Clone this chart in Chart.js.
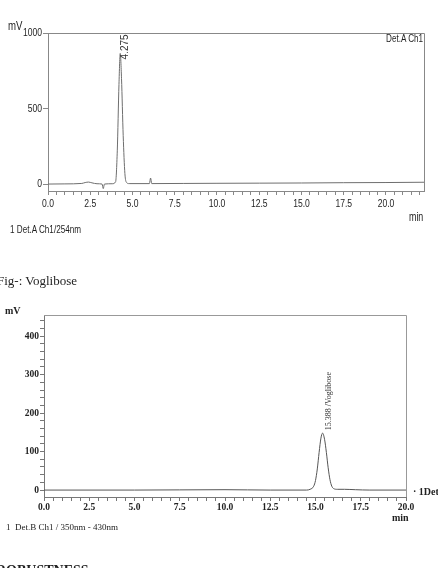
<!DOCTYPE html>
<html>
<head>
<meta charset="utf-8">
<script src="https://cdn.jsdelivr.net/npm/chart.js@4.4.1/dist/chart.umd.min.js"></script>
<style>
  html, body { margin: 0; padding: 0; background: #fff; }
  #page { position: relative; width: 438px; height: 568px; overflow: hidden; background: #fff; }
  canvas { position: absolute; left: 0; }
  .t { position: absolute; white-space: nowrap; line-height: 1; }
  .sans { font-family: 'Liberation Sans', Arial, sans-serif; color: #1e1e1e; font-size: 11px; transform: scaleX(0.74); transform-origin: left top; }
  .serif { font-family: 'Liberation Serif', 'Times New Roman', serif; color: #222; }
</style>
</head>
<body>
<div id="page">
  <canvas id="chartA" width="438" height="240" style="top:0;width:438px;height:240px"></canvas>
  <canvas id="chartB" width="438" height="250" style="top:290px;width:438px;height:250px"></canvas>

  <div class="t sans" style="left:8px;top:19px;font-size:13px">mV</div>
  <div class="t sans" style="left:386px;top:33px">Det.A Ch1</div>
  <div class="t sans" style="left:409px;top:211px;font-size:12px">min</div>
  <div class="t sans" style="left:10px;top:224px">1 Det.A Ch1/254nm</div>

  <div class="t serif" style="left:-3px;top:274px;font-size:13px">Fig-: Voglibose</div>
  <div class="t serif" style="left:5px;top:306px;font-size:10px;font-weight:bold">mV</div>
  <div class="t serif" style="left:392px;top:513px;font-size:10px;font-weight:bold">min</div>
  <div class="t serif" style="left:413px;top:487px;font-size:10px;font-weight:bold">&middot; 1Det.B Ch1</div>
  <div class="t serif" style="left:6px;top:523px;font-size:9px">1&nbsp; Det.B Ch1 / 350nm - 430nm</div>
  <div class="t serif" style="left:-4px;top:564px;font-size:14px;font-weight:bold">ROBUSTNESS</div>
</div>
<script>
// chromatogram A (Det.A Ch1 / 254nm)
const timeA   = [0, 1.0, 2.0, 2.2, 2.4, 2.6, 2.9, 3.2, 3.27, 3.34, 3.8, 4.0, 4.1, 4.2, 4.275, 4.35, 4.45, 4.55, 4.65, 4.8, 6.0, 6.07, 6.14, 8, 10, 12.5, 15, 17.5, 20, 22.25];
const signalA = [0, 1, 4, 10, 13, 8, 2, 0, -30, 0, 2, 15, 220, 660, 865, 700, 320, 70, 10, 3, 3, 40, 3, 4, 5, 6, 7, 9, 10, 12];
const peakTimesA  = [4.275];
const peakHeightA = [865];
const peakLabelsA = ['4.275'];
const yLabelsA = [0, 500, 1000];

// chromatogram B (Det.B Ch1 / 350nm - 430nm)
const timeB   = [0, 5, 10, 12.5, 14.5, 14.7, 14.9, 15.0, 15.1, 15.2, 15.3, 15.388, 15.5, 15.6, 15.7, 15.8, 15.9, 16.0, 16.2, 16.6, 17.2, 18, 20];
const signalB = [0, 0, 1, 0, 0, 2, 10, 25, 55, 98, 135, 148, 132, 98, 58, 27, 10, 4, 2, 2, 1, 0, 0];
const peakTimesB  = [15.388];
const peakHeightB = [148];
const peakLabelsB = ['15.388 /Voglibose'];
const yLabelsB = [0, 100, 200, 300, 400];

const xLabels = [0, 2.5, 5, 7.5, 10, 12.5, 15, 17.5, 20];

function pts(xs, ys) { return xs.map((x, i) => ({ x: x, y: ys[i] })); }
function range(a, b, s) { const r = []; for (let v = a; v <= b + 1e-9; v += s) r.push(Math.round(v * 100) / 100); return r; }

const frame = (color) => ({
  id: 'frame',
  afterDraw(chart) {
    const a = chart.chartArea, ctx = chart.ctx;
    ctx.save();
    ctx.strokeStyle = color;
    ctx.lineWidth = 1;
    ctx.beginPath();
    ctx.moveTo(a.left, a.top + 0.5); ctx.lineTo(a.right + 0.5, a.top + 0.5);
    ctx.lineTo(a.right + 0.5, a.bottom);
    ctx.stroke();
    ctx.restore();
  }
});

const peakText = (times, heights, labels, font, color, dx, dy) => ({
  id: 'peakText',
  afterDatasetsDraw(chart) {
    const ctx = chart.ctx, xs = chart.scales.x, ys = chart.scales.y;
    ctx.save();
    ctx.font = font;
    ctx.fillStyle = color;
    ctx.textAlign = 'left';
    ctx.textBaseline = 'middle';
    times.forEach((t, i) => {
      ctx.save();
      ctx.translate(xs.getPixelForValue(t) + dx, ys.getPixelForValue(heights[i]) + dy);
      ctx.rotate(-Math.PI / 2);
      ctx.fillText(labels[i], 0, 0);
      ctx.restore();
    });
    ctx.restore();
  }
});

// condensed tick labels for the top chart (the original uses a narrow face)
const narrowTicks = {
  id: 'narrowTicks',
  afterDraw(chart) {
    const ctx = chart.ctx, xs = chart.scales.x, ys = chart.scales.y;
    ctx.save();
    ctx.font = "11px 'Liberation Sans', Arial";
    ctx.fillStyle = '#1e1e1e';
    ctx.textBaseline = 'middle';
    xLabels.forEach(v => {
      ctx.save();
      ctx.translate(xs.getPixelForValue(v), xs.top + 13);
      ctx.scale(0.78, 1);
      ctx.textAlign = 'center';
      ctx.fillText(v.toFixed(1), 0, 0);
      ctx.restore();
    });
    yLabelsA.forEach(v => {
      ctx.save();
      ctx.translate(ys.right - 6, ys.getPixelForValue(v));
      ctx.scale(0.78, 1);
      ctx.textAlign = 'right';
      ctx.fillText(String(v), 0, 0);
      ctx.restore();
    });
    ctx.restore();
  }
};

// top chart
new Chart(document.getElementById('chartA'), {
  type: 'line',
  data: {
    datasets: [{
      data: pts(timeA, signalA),
      borderColor: '#6e6e6e',
      borderWidth: 1,
      pointRadius: 0,
      cubicInterpolationMode: 'monotone'
    }]
  },
  options: {
    responsive: false,
    animation: false,
    layout: { padding: { top: 33, right: 14, left: 0, bottom: 0 } },
    plugins: { legend: { display: false }, tooltip: { enabled: false } },
    scales: {
      x: {
        type: 'linear', min: 0, max: 22.25,
        afterBuildTicks: s => { s.ticks = range(0, 22, 0.5).map(v => ({ value: v })); },
        afterFit: s => { s.height = 49; },
        ticks: { display: false },
        grid: { drawOnChartArea: false, tickLength: 4, color: '#888' },
        border: { color: '#888' }
      },
      y: {
        min: -46, max: 1000,
        afterBuildTicks: s => { s.ticks = yLabelsA.map(v => ({ value: v })); },
        afterFit: s => { s.width = 48; },
        ticks: { display: false },
        grid: { drawOnChartArea: false, tickLength: 5, color: '#888' },
        border: { color: '#888' }
      }
    }
  },
  plugins: [frame('#888'), narrowTicks, peakText(peakTimesA, peakHeightA, peakLabelsA, "10px 'Liberation Sans', Arial", '#333', 5, 6)]
});

// bottom chart
new Chart(document.getElementById('chartB'), {
  type: 'line',
  data: {
    datasets: [{
      data: pts(timeB, signalB),
      borderColor: '#555',
      borderWidth: 1,
      pointRadius: 0,
      cubicInterpolationMode: 'monotone'
    }]
  },
  options: {
    responsive: false,
    animation: false,
    layout: { padding: { top: 25, right: 32, left: 0, bottom: 0 } },
    plugins: { legend: { display: false }, tooltip: { enabled: false } },
    scales: {
      x: {
        type: 'linear', min: 0, max: 20,
        afterBuildTicks: s => { s.ticks = range(0, 20, 0.5).map(v => ({ value: v })); },
        afterFit: s => { s.height = 43; },
        ticks: {
          autoSkip: false, maxRotation: 0, padding: 1, color: '#222',
          font: { family: "'Liberation Serif', 'Times New Roman', serif", size: 9.5, weight: 'bold' },
          callback: v => xLabels.includes(v) ? v.toFixed(1) : ''
        },
        grid: { drawOnChartArea: false, tickLength: 4, color: '#777' },
        border: { color: '#777' }
      },
      y: {
        min: -18, max: 455,
        afterBuildTicks: s => { s.ticks = range(0, 440, 20).map(v => ({ value: v })); },
        afterFit: s => { s.width = 44; },
        ticks: {
          autoSkip: false, padding: 1, color: '#222',
          font: { family: "'Liberation Serif', 'Times New Roman', serif", size: 9.5, weight: 'bold' },
          callback: v => yLabelsB.includes(v) ? String(v) : ''
        },
        grid: { drawOnChartArea: false, tickLength: 4, color: '#777' },
        border: { color: '#777' }
      }
    }
  },
  plugins: [frame('#999'), peakText(peakTimesB, peakHeightB, peakLabelsB, "8px 'Liberation Serif', 'Times New Roman', serif", '#333', 6.5, -3)]
});
</script>
</body>
</html>
